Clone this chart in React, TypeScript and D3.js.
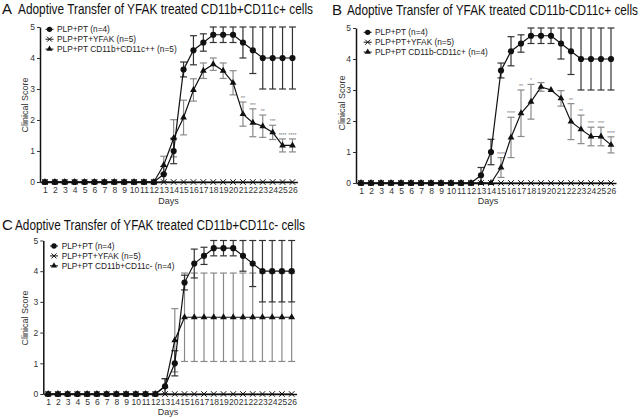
import React, { useEffect, useRef } from 'react';
import * as d3 from 'd3';

const days = [1, 2, 3, 4, 5, 6, 7, 8, 9, 10, 11, 12, 13, 14, 15, 16, 17, 18, 19, 20, 21, 22, 23, 24, 25, 26];
const scoreTicks = [0, 1, 2, 3, 4, 5];

// control groups (same in every panel)
const plpMean = [0, 0, 0, 0, 0, 0, 0, 0, 0, 0, 0, 0, 0.25, 1, 3.63, 4.25, 4.5, 4.75, 4.75, 4.75, 4.5, 4.25, 4, 4, 4, 4];
const plpSem = [0, 0, 0, 0, 0, 0, 0, 0, 0, 0, 0, 0, 0.25, 0.41, 0.24, 0.47, 0.28, 0.25, 0.25, 0.25, 0.5, 0.75, 1, 1, 1, 1];
const yfakMean = [0, 0, 0, 0, 0, 0, 0, 0, 0, 0, 0, 0, 0, 0, 0, 0, 0, 0, 0, 0, 0, 0, 0, 0, 0, 0];

// A: CD11b+CD11c+
const aMean = [0, 0, 0, 0, 0, 0, 0, 0, 0, 0, 0, 0, 0.55, 1.41, 2.08, 2.97, 3.59, 3.8, 3.59, 3.2, 2.19, 1.91, 1.8, 1.6, 1.18, 1.18];
const aSem = [0, 0, 0, 0, 0, 0, 0, 0, 0, 0, 0, 0, 0.28, 0.6, 0.56, 0.36, 0.25, 0.2, 0.25, 0.39, 0.39, 0.45, 0.36, 0.23, 0.21, 0.21];
const aStars = ['', '', '', '', '', '', '', '', '', '', '', '', '', '', '', '', '', '', '', '', '**', '***', '**', '***', '****', '****'];

// B: CD11b-CD11c+
const bMean = [0, 0, 0, 0, 0, 0, 0, 0, 0, 0, 0, 0, 0, 0, 0.5, 1.47, 2.25, 2.62, 3.1, 3.0, 2.73, 1.98, 1.73, 1.5, 1.5, 1.23];
const bSem = [0, 0, 0, 0, 0, 0, 0, 0, 0, 0, 0, 0, 0, 0, 0.32, 0.65, 0.75, 0.56, 0.14, 0, 0.25, 0.58, 0.46, 0.3, 0.3, 0.26];
const bStars = ['', '', '', '', '', '', '', '', '', '', '', '', '', '', '****', '****', '**', '*', '', '', '', '**', '**', '***', '***', '****'];

// C: CD11b+CD11c-
const cMean = [0, 0, 0, 0, 0, 0, 0, 0, 0, 0, 0, 0, 0.25, 1.75, 2.5, 2.5, 2.5, 2.5, 2.5, 2.5, 2.5, 2.5, 2.5, 2.5, 2.5, 2.5];
const cSem = [0, 0, 0, 0, 0, 0, 0, 0, 0, 0, 0, 0, 0.25, 1.03, 1.44, 1.44, 1.44, 1.44, 1.44, 1.44, 1.44, 1.44, 1.44, 1.44, 1.44, 1.44];
const noStars = days.map(() => '');

const letters = ['A', 'B', 'C'];
const titles = [
  'Adoptive Transfer of YFAK treated CD11b+CD11c+ cells',
  'Adoptive Transfer of YFAK treated CD11b-CD11c+ cells',
  'Adoptive Transfer of YFAK treated CD11b+CD11c- cells',
];
const controlLabels = ['PLP+PT (n=4)', 'PLP+PT+YFAK (n=5)'];
const cohortLabels = ['PLP+PT CD11b+CD11c++ (n=5)', 'PLP+PT CD11b-CD11c+ (n=4)', 'PLP+PT CD11b+CD11c- (n=4)'];
const cohortMeans = [aMean, bMean, cMean];
const cohortSems = [aSem, bSem, cSem];
const cohortStars = [aStars, bStars, noStars];

// where each panel sits on the page
const layouts = [
  { axisX: 40, step: 9.9, y0: 182, y5: 27, letterX: 2, titleX: 18, titleY: 14, titleW: 295, legX: 49.5, legY: 29.3, textX: 57, daysX: 168.5, daysY: 204, scoreX: 25, scoreY: 105 },
  { axisX: 356, step: 10, y0: 183, y5: 28, letterX: 332, titleX: 347, titleY: 15, titleW: 291, legX: 367.7, legY: 32.3, textX: 375, daysX: 488, daysY: 204, scoreX: 341.7, scoreY: 103 },
  { axisX: 43.3, step: 9.74, y0: 394, y5: 240.5, letterX: 2, titleX: 15, titleY: 230, titleW: 290, legX: 54, legY: 246, textX: 61.7, daysX: 168, daysY: 415, scoreX: 25, scoreY: 318 },
];

const font = "'Liberation Sans', Arial, Helvetica, sans-serif";

function drawPanel(svg, i) {
  const p = layouts[i];
  const x = d3.scaleLinear().domain([0.5, 26.5]).range([p.axisX, p.axisX + 26 * p.step]);
  const y = d3.scaleLinear().domain([0, 5]).range([p.y0, p.y5]);
  const g = svg.append('g').attr('font-family', font);

  // title: narrow, tall lettering like the figure
  g.append('text').attr('x', p.letterX).attr('y', p.titleY).attr('font-size', 15).attr('fill', '#111').text(letters[i]);
  g.append('text').attr('transform', `translate(${p.titleX},${p.titleY}) scale(1,1.22)`)
    .attr('font-size', 11.7).attr('fill', '#111')
    .attr('textLength', p.titleW).attr('lengthAdjust', 'spacingAndGlyphs').text(titles[i]);

  // axes
  const yAxis = g.append('g').attr('transform', `translate(${p.axisX},0)`)
    .call(d3.axisLeft(y).tickValues(scoreTicks).tickFormat(d3.format('d')).tickSize(3).tickSizeOuter(0).tickPadding(2));
  const xAxis = g.append('g').attr('transform', `translate(0,${p.y0})`)
    .call(d3.axisBottom(x).tickValues(days).tickFormat(d3.format('d')).tickSize(0).tickSizeOuter(0).tickPadding(5));
  [yAxis, xAxis].forEach(a => {
    a.attr('font-family', font);
    a.select('.domain').attr('stroke', '#111').attr('stroke-width', 1.5);
    a.selectAll('.tick line').attr('stroke', '#333');
    a.selectAll('.tick text').attr('font-size', 8.5).attr('fill', '#333');
  });

  g.append('text').attr('x', p.daysX).attr('y', p.daysY).attr('text-anchor', 'middle')
    .attr('font-size', 9).attr('fill', '#333').text('Days');
  g.append('text').attr('transform', `translate(${p.scoreX + 3},${p.scoreY}) rotate(-90)`)
    .attr('text-anchor', 'middle').attr('font-size', 9).attr('fill', '#333').text('Clinical Score');

  const series = [
    { mean: cohortMeans[i], sem: cohortSems[i], bar: '#8a8a8a', symbol: d3.symbolTriangle, size: 20 },
    { mean: plpMean, sem: plpSem, bar: '#333', symbol: d3.symbolCircle, size: 30 },
  ];

  // error bars
  series.forEach(s => {
    s.mean.forEach((m, k) => {
      if (!s.sem[k]) return;
      const cx = x(days[k]);
      const lo = y(Math.max(0, m - s.sem[k]));
      const hi = y(m + s.sem[k]);
      const eb = g.append('g').attr('stroke', s.bar).attr('stroke-width', 1.2);
      eb.append('line').attr('x1', cx).attr('x2', cx).attr('y1', lo).attr('y2', hi);
      eb.append('line').attr('x1', cx - 3.5).attr('x2', cx + 3.5).attr('y1', lo).attr('y2', lo);
      eb.append('line').attr('x1', cx - 3.5).attr('x2', cx + 3.5).attr('y1', hi).attr('y2', hi);
    });
  });

  // significance marks
  cohortStars[i].forEach((st, k) => {
    if (!st) return;
    g.append('text').attr('x', x(days[k])).attr('y', y(cohortMeans[i][k] + cohortSems[i][k]) - 2)
      .attr('text-anchor', 'middle').attr('font-size', 5).attr('fill', '#777').text(st);
  });

  const line = d3.line<number>().x((_, k) => x(days[k])).y(d => y(d));

  // YFAK group on the baseline
  g.append('path').attr('d', line(yfakMean)).attr('fill', 'none').attr('stroke', '#111').attr('stroke-width', 1.2);
  yfakMean.forEach((m, k) => {
    g.append('path').attr('d', d3.symbol(d3.symbolTimes, 22)())
      .attr('transform', `translate(${x(days[k])},${y(m)})`).attr('fill', 'none').attr('stroke', '#111').attr('stroke-width', 1);
  });

  series.forEach(s => {
    g.append('path').attr('d', line(s.mean)).attr('fill', 'none').attr('stroke', '#111').attr('stroke-width', 1.2);
    s.mean.forEach((m, k) => {
      g.append('path').attr('d', d3.symbol(s.symbol, s.size)())
        .attr('transform', `translate(${x(days[k])},${y(m)})`).attr('fill', '#111');
    });
  });

  // legend
  const legend = [
    { label: controlLabels[0], symbol: d3.symbolCircle, size: 22, fill: '#111' },
    { label: controlLabels[1], symbol: d3.symbolTimes, size: 18, fill: 'none' },
    { label: cohortLabels[i], symbol: d3.symbolTriangle, size: 16, fill: '#111' },
  ];
  legend.forEach((l, k) => {
    const ly = p.legY + k * 9.9;
    g.append('line').attr('x1', p.legX - 4).attr('x2', p.legX + 4).attr('y1', ly).attr('y2', ly)
      .attr('stroke', '#111').attr('stroke-width', 1);
    g.append('path').attr('d', d3.symbol(l.symbol, l.size)()).attr('transform', `translate(${p.legX},${ly})`)
      .attr('fill', l.fill).attr('stroke', l.fill === 'none' ? '#111' : 'none').attr('stroke-width', 1);
    g.append('text').attr('x', p.textX).attr('y', ly + 3).attr('font-size', 8.3).attr('fill', '#222').text(l.label);
  });
}

const App = () => {
  const svgRef = useRef<SVGSVGElement>(null);

  useEffect(() => {
    const svg = d3.select(svgRef.current);
    svg.selectAll('*').remove();
    [0, 1, 2].forEach(i => drawPanel(svg, i));
  }, []);

  return (
    <svg ref={svgRef} width={640} height={418}
      style={{ position: 'absolute', left: 0, top: 0, background: '#fff' }} />
  );
};

export default App;
